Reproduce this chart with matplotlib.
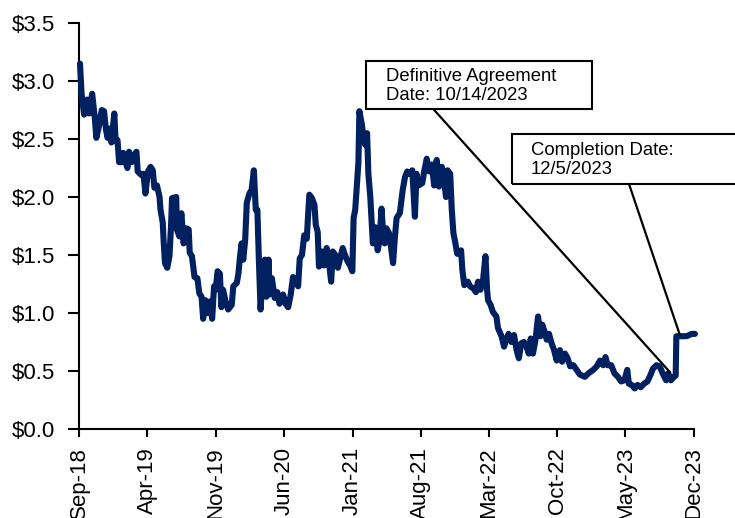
import pandas as pd
import matplotlib
matplotlib.use("Agg")
import matplotlib.pyplot as plt
import matplotlib.dates as mdates
from matplotlib.patches import Rectangle
from matplotlib.ticker import FuncFormatter

plt.rcParams['font.family'] = ['Liberation Sans', 'DejaVu Sans']

# closing price readings, split by year (MM-DD, price)
days_2018 = ['09-04', '09-09', '09-17', '09-27', '10-03', '10-12', '10-20', '10-25', '11-02', '11-11',
             '11-18', '11-24', '11-29', '12-06', '12-11', '12-20', '12-24', '12-30']
price_2018 = [3.15, 2.89, 2.71, 2.84, 2.72, 2.89, 2.69, 2.51, 2.61, 2.75,
              2.74, 2.58, 2.51, 2.59, 2.47, 2.72, 2.48, 2.49]

days_2019 = ['01-04', '01-12', '01-17', '01-22', '01-30', '02-04', '02-12', '02-17', '02-27', '03-03',
             '03-14', '03-21', '03-27', '04-04', '04-12', '04-19', '04-24', '05-02', '05-10', '05-13',
             '05-20', '05-23', '05-27', '06-03', '06-10', '06-15', '06-18', '07-01', '07-03', '07-11',
             '07-17', '07-24', '08-02', '08-09', '08-12', '08-19', '08-27', '09-05', '09-11', '09-18',
             '09-23', '09-30', '10-06', '10-14', '10-21', '10-27', '11-01', '11-07', '11-14', '11-19',
             '11-24', '12-02', '12-10', '12-21', '12-26']
price_2019 = [2.30, 2.30, 2.38, 2.32, 2.25, 2.39, 2.30, 2.35, 2.39, 2.22,
              2.19, 2.20, 2.03, 2.22, 2.26, 2.23, 2.08, 2.10, 2.00, 1.89,
              1.78, 1.61, 1.43, 1.39, 1.49, 1.76, 1.99, 2.00, 1.72, 1.66,
              1.86, 1.60, 1.73, 1.72, 1.52, 1.49, 1.31, 1.30, 1.17, 1.14,
              0.95, 1.11, 1.00, 1.10, 0.95, 1.23, 1.20, 1.36, 1.34, 1.05,
              1.20, 1.10, 1.03, 1.07, 1.23]

days_2020 = ['01-06', '01-11', '01-16', '01-21', '01-26', '02-01', '02-06', '02-14', '02-21', '02-28',
             '03-05', '03-10', '03-15', '03-20', '03-27', '04-02', '04-07', '04-14', '04-17', '04-24',
             '05-03', '05-11', '05-18', '05-29', '06-06', '06-14', '06-22', '06-29', '07-10', '07-15',
             '07-20', '07-27', '08-03', '08-11', '08-14', '08-19', '08-27', '09-04', '09-08', '09-14',
             '09-18', '09-27', '10-04', '10-12', '10-19', '10-26', '10-31', '11-08', '11-16', '11-23',
             '12-01', '12-08', '12-17', '12-24', '12-31']
price_2020 = [1.26, 1.34, 1.49, 1.60, 1.46, 1.63, 1.95, 2.03, 2.06, 2.23,
              1.89, 1.89, 1.43, 1.03, 1.34, 1.46, 1.14, 1.46, 1.16, 1.30,
              1.13, 1.18, 1.08, 1.16, 1.08, 1.05, 1.16, 1.31, 1.27, 1.23,
              1.47, 1.50, 1.67, 1.64, 1.79, 2.02, 1.99, 1.93, 1.76, 1.70,
              1.40, 1.53, 1.41, 1.56, 1.44, 1.27, 1.53, 1.50, 1.39, 1.47,
              1.56, 1.50, 1.44, 1.41, 1.36]

days_2021 = ['01-04', '01-09', '01-15', '01-19', '01-22', '01-30', '02-04', '02-09', '02-15', '02-19',
             '02-25', '03-05', '03-12', '03-20', '03-26', '04-01', '04-06', '04-11', '04-16', '04-24',
             '04-29', '05-07', '05-12', '05-18', '05-28', '06-06', '06-13', '06-20', '06-28', '07-06',
             '07-14', '07-19', '07-26', '08-06', '08-12', '08-20', '08-28', '09-05', '09-12', '09-20',
             '09-27', '10-06', '10-13', '10-19', '10-24', '11-01', '11-06', '11-11', '11-16', '11-23',
             '12-05', '12-09', '12-15', '12-26']
price_2021 = [1.82, 1.89, 2.13, 2.30, 2.74, 2.62, 2.50, 2.45, 2.55, 2.20,
              2.00, 1.60, 1.74, 1.54, 1.63, 1.90, 1.69, 1.60, 1.73, 1.69,
              1.60, 1.43, 1.63, 1.82, 1.86, 2.06, 2.17, 2.22, 2.20, 2.23,
              1.83, 2.20, 2.10, 2.12, 2.22, 2.33, 2.22, 2.28, 2.10, 2.32,
              2.09, 2.26, 2.15, 2.00, 2.23, 2.20, 1.89, 1.69, 1.62, 1.51,
              1.54, 1.37, 1.24, 1.27]

days_2022 = ['01-02', '01-13', '01-20', '01-27', '02-03', '02-11', '02-19', '02-24', '02-27', '03-07',
             '03-14', '03-25', '03-30', '04-10', '04-18', '04-25', '05-02', '05-11', '05-19', '05-27',
             '06-03', '06-11', '06-19', '06-27', '07-04', '07-10', '07-17', '07-25', '08-02', '08-09',
             '08-15', '08-21', '08-29', '09-05', '09-13', '09-21', '09-29', '10-02', '10-09', '10-16',
             '10-25', '11-02', '11-10', '11-20', '11-30', '12-10', '12-26']
price_2022 = [1.23, 1.21, 1.18, 1.27, 1.20, 1.27, 1.49, 1.20, 1.11, 1.07,
              1.01, 0.97, 0.87, 0.80, 0.71, 0.77, 0.82, 0.75, 0.81, 0.68,
              0.61, 0.74, 0.75, 0.71, 0.65, 0.78, 0.65, 0.77, 0.97, 0.80,
              0.90, 0.85, 0.77, 0.82, 0.74, 0.68, 0.59, 0.65, 0.68, 0.58,
              0.65, 0.61, 0.54, 0.55, 0.51, 0.47, 0.45]

days_2023 = ['01-06', '01-21', '02-01', '02-11', '02-21', '02-28', '03-07', '03-18', '03-28', '04-08',
             '04-18', '04-28', '05-07', '05-12', '05-21', '05-30', '06-08', '06-18', '06-28', '07-09',
             '07-19', '07-26', '08-06', '08-16', '08-27', '09-05', '09-12', '09-20', '09-30', '10-05',
             '10-07', '10-23', '11-08', '11-24', '12-04']
price_2023 = [0.48, 0.51, 0.54, 0.59, 0.55, 0.62, 0.55, 0.55, 0.48, 0.45,
              0.41, 0.42, 0.51, 0.39, 0.38, 0.35, 0.38, 0.36, 0.39, 0.41,
              0.47, 0.52, 0.55, 0.54, 0.47, 0.42, 0.48, 0.42, 0.45, 0.46,
              0.80, 0.80, 0.80, 0.82, 0.82]

agreement_label = "Definitive Agreement\nDate: 10/14/2023"
completion_label = "Completion Date:\n12/5/2023"

years = [(2018, days_2018, price_2018), (2019, days_2019, price_2019), (2020, days_2020, price_2020),
         (2021, days_2021, price_2021), (2022, days_2022, price_2022), (2023, days_2023, price_2023)]
frames = []
for yr, days, prices in years:
    frames.append(pd.DataFrame({"date": pd.to_datetime([f"{yr}-{d}" for d in days]), "price": prices}))
df = pd.concat(frames, ignore_index=True)

fig = plt.figure(figsize=(7.35, 5.18), dpi=100)
ax = fig.add_axes([0.1075, 0.1718, 0.8367, 0.7838])

ax.plot(df["date"], df["price"], color="#002060", lw=4.4,
        solid_joinstyle="round", solid_capstyle="round", clip_on=False, zorder=3)

ax.set_ylim(0, 3.5)
ax.set_yticks([0.0, 0.5, 1.0, 1.5, 2.0, 2.5, 3.0, 3.5])
ax.yaxis.set_major_formatter(FuncFormatter(lambda v, p: "${:.1f}".format(v)))
ax.set_xlim(pd.Timestamp("2018-09-01"), pd.Timestamp("2023-12-01"))
ax.set_xticks(pd.date_range("2018-09-01", "2023-12-01", freq="7MS"))
ax.xaxis.set_major_formatter(mdates.DateFormatter("%b-%y"))

for side in ["top", "right"]:
    ax.spines[side].set_visible(False)
for side in ["left", "bottom"]:
    ax.spines[side].set_linewidth(1.5)

ax.tick_params(axis="y", direction="out", length=8, width=1.5, pad=9, labelsize=16)
ax.tick_params(axis="x", direction="out", length=6, width=1.5, pad=7, labelsize=16, labelrotation=90)

# annotation boxes (figure fraction)
fig.patches.append(Rectangle((0.498, 0.7896), 0.3075, 0.0927, transform=fig.transFigure,
                             fill=False, edgecolor="black", lw=1.5))
fig.text(0.5252, 0.834, agreement_label, fontsize=13.3, va="center", ha="left", linespacing=1.15)

fig.patches.append(Rectangle((0.6962, 0.6448), 0.35, 0.0959, transform=fig.transFigure,
                             fill=False, edgecolor="black", lw=1.5))
fig.text(0.722, 0.691, completion_label, fontsize=13.3, va="center", ha="left", linespacing=1.15)

ax.annotate("", xy=(mdates.date2num(pd.Timestamp("2023-09-17")), 0.49), xycoords="data",
            xytext=(0.5895, 0.7896), textcoords="figure fraction",
            arrowprops=dict(arrowstyle="-", color="black", lw=1.6, shrinkA=0, shrinkB=0))
ax.annotate("", xy=(mdates.date2num(pd.Timestamp("2023-10-18")), 0.81), xycoords="data",
            xytext=(0.8558, 0.6448), textcoords="figure fraction",
            arrowprops=dict(arrowstyle="-", color="black", lw=1.6, shrinkA=0, shrinkB=0))

plt.savefig("out.png", dpi=100)
plt.close()
